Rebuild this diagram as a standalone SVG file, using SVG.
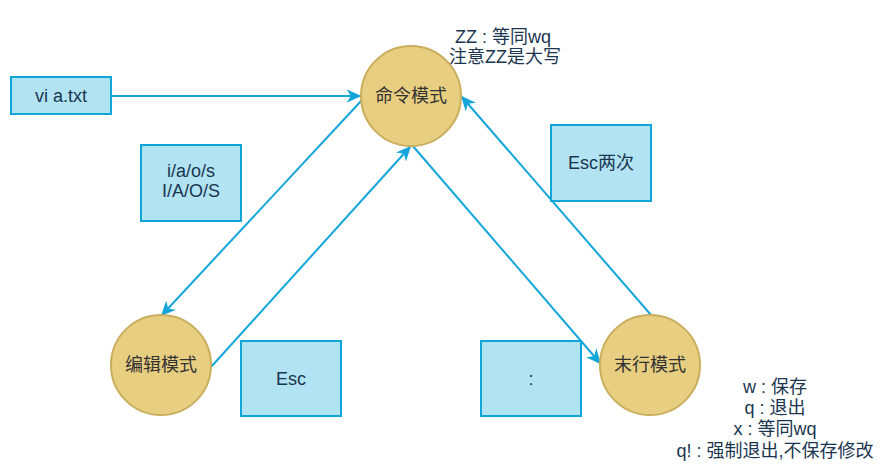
<svg xmlns="http://www.w3.org/2000/svg" width="887" height="473" viewBox="0 0 887 473">
<style>
.box{fill:#B1E3F2;stroke:#0EA5D8;stroke-width:2}
.node{fill:#E8CE80;stroke:#C9AE5E;stroke-width:2}
.t{font-family:"Liberation Sans","Noto Sans CJK SC",sans-serif;font-size:18px;text-anchor:middle;fill:#1A3550}
.nt{font-family:"Liberation Sans","Noto Sans CJK SC",sans-serif;font-size:18px;text-anchor:middle;fill:#333}
.c{stroke:#14A6DA;stroke-width:2;fill:none}
</style>
<defs>
<marker id="ah" viewBox="0 0 10 10" refX="9" refY="5" markerWidth="15" markerHeight="15" orient="auto" markerUnits="userSpaceOnUse">
<path d="M0,0.5 L10,5 L0,9.5 L3,5 Z" fill="#14A6DA"/>
</marker>
</defs>
<rect width="887" height="473" fill="#fff"/>
<g id="connectors">
<line class="c" x1="111" y1="96" x2="360" y2="96" marker-end="url(#ah)"/>
<line class="c" x1="362" y1="100" x2="162" y2="315" marker-end="url(#ah)"/>
<line class="c" x1="211" y1="367" x2="410" y2="147" marker-end="url(#ah)"/>
<line class="c" x1="412" y1="145" x2="600" y2="363" marker-end="url(#ah)"/>
<line class="c" x1="651" y1="315" x2="462" y2="97" marker-end="url(#ah)"/>
</g>
<g id="vi">
<rect class="box" x="11" y="77" width="100" height="37"/>
<text class="t" x="61" y="102">vi a.txt</text>
</g>
<g id="cmd">
<circle class="node" cx="411" cy="96" r="50"/>
<text class="nt" x="411" y="102">命令模式</text>
</g>
<g id="edit">
<circle class="node" cx="161" cy="365" r="50"/>
<text class="nt" x="161" y="371">编辑模式</text>
</g>
<g id="last">
<circle class="node" cx="650" cy="365" r="50"/>
<text class="nt" x="650" y="371">末行模式</text>
</g>
<g id="iaos">
<rect class="box" x="141" y="145" width="100" height="76"/>
<text class="t" x="191" y="177">i/a/o/s</text>
<text class="t" x="191" y="197">I/A/O/S</text>
</g>
<g id="esc">
<rect class="box" x="241" y="341" width="100" height="75"/>
<text class="t" x="291" y="385">Esc</text>
</g>
<g id="colon">
<rect class="box" x="481" y="341" width="100" height="75"/>
<text class="t" x="531" y="385">:</text>
</g>
<g id="esc2">
<rect class="box" x="551" y="125" width="100" height="76"/>
<text class="t" x="601" y="169">Esc两次</text>
</g>
<g id="zz">
<text class="t" x="503" y="43">ZZ : 等同wq</text>
<text class="t" x="505" y="63">注意ZZ是大写</text>
</g>
<g id="cmds">
<text class="t" x="775" y="393">w : 保存</text>
<text class="t" x="775" y="414">q : 退出</text>
<text class="t" x="775" y="435">x : 等同wq</text>
<text class="t" x="775" y="457">q! : 强制退出,不保存修改</text>
</g>
</svg>
